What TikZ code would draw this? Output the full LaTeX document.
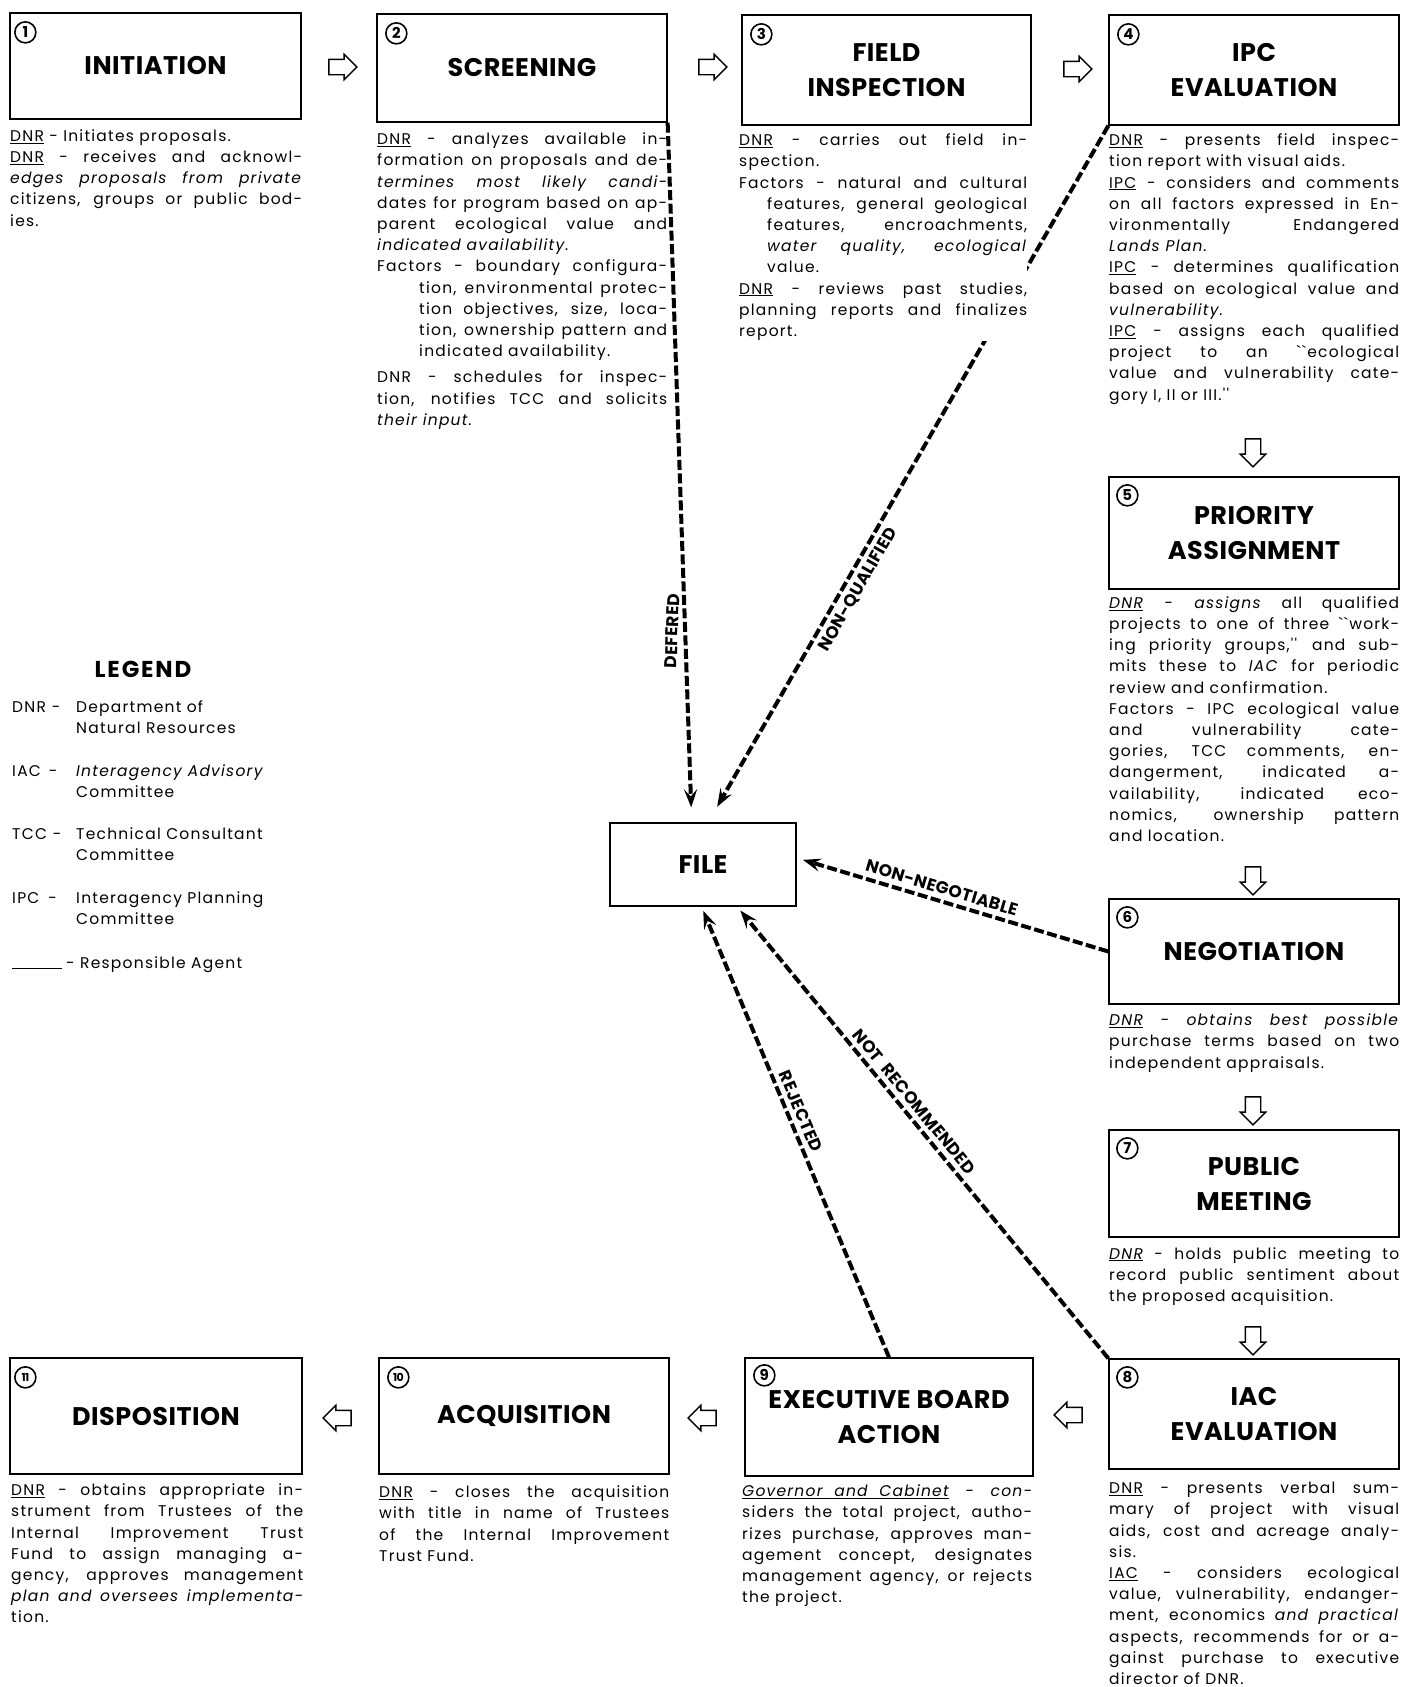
\documentclass[tikz,border=0pt]{standalone}
\usepackage{fontspec}
\setmainfont{Poppins}
\newfontfamily\bodyfam{Poppins}[LetterSpace=8]
\newfontfamily\headfam{Poppins}[LetterSpace=2]
\newfontfamily\legfam{Poppins}[LetterSpace=8]
\newfontfamily\numfam{Poppins}[LetterSpace=-6]
\usetikzlibrary{arrows.meta,shapes.arrows,backgrounds}
\newcommand\descfont{\bodyfam\fontsize{15.5}{21.2}\selectfont\hyphenpenalty=10000\exhyphenpenalty=10000\tolerance=10000}
\newcommand\headfont{\headfam\bfseries\fontsize{25.5}{35}\selectfont}
\newcommand\lblfont{\headfam\bfseries\fontsize{17}{19}\selectfont}
\newcommand\numfont{\numfam\bfseries\fontsize{15}{15}\selectfont}
\newcommand\numsmall{\numfam\bfseries\fontsize{11}{11}\selectfont}
\newcommand\udnr{\underline{DNR}}
\begin{document}
\begin{tikzpicture}[x=1pt,y=-1pt,
  stage/.style={draw, line width=1.3pt, align=center, font=\headfont, inner sep=0pt, minimum width=290pt},
  desc/.style={anchor=north west, text width=290pt, align=justify, inner sep=0pt, font=\descfont},
  num/.style={circle, draw, line width=1.6pt, minimum size=21pt, inner sep=0pt, font=\numfont},
  blk/.style={single arrow, draw, line width=1.4pt, minimum height=28pt, inner sep=7pt, single arrow head extend=5pt},
  flow/.style={line width=4pt, dash pattern=on 10pt off 3.5pt, -{Stealth[length=18pt,width=13pt,inset=7pt]}},
  lbl/.style={font=\lblfont, inner sep=5pt},
  legd/.style={anchor=base west, inner sep=0pt, font=\legfam\fontsize{15.5}{21}\selectfont, align=left}
]
\useasboundingbox (0,0) rectangle (1404,1687);

% ---------- stage boxes ----------
\node[stage, minimum width=291pt, minimum height=106pt] (B1) at (155.5,66) {INITIATION};
\node[stage, minimum height=108pt] (B2) at (522,68) {SCREENING};
\node[stage, minimum width=289pt, minimum height=110pt] (B3) at (886.5,70) {FIELD\\INSPECTION};
\node[stage, minimum height=110pt] (B4) at (1254,70) {IPC\\EVALUATION};
\node[stage, minimum height=112pt] (B5) at (1254,533) {PRIORITY\\ASSIGNMENT};
\node[stage, minimum height=105pt] (B6) at (1254,951.5) {NEGOTIATION};
\node[stage, minimum height=107pt] (B7) at (1254,1183.5) {PUBLIC\\MEETING};
\node[stage, minimum height=110pt] (B8) at (1254,1414) {IAC\\EVALUATION};
\node[stage, minimum width=288pt, minimum height=118pt] (B9) at (889,1417) {EXECUTIVE BOARD\\ACTION};
\node[stage, minimum height=116pt] (B10) at (524,1416) {ACQUISITION};
\node[stage, minimum width=292pt, minimum height=116pt] (B11) at (156,1416) {DISPOSITION};
\node[draw, line width=1.2pt, minimum width=186pt, minimum height=83pt, inner sep=0pt, font=\headfont] (FILE) at (703,864.5) {FILE};

% ---------- numbers ----------
\node[num] (n1) at ([shift={(16,20)}]B1.north west) {1};
\node[num] (n2) at ([shift={(20,20)}]B2.north west) {2};
\node[num] (n3) at ([shift={(20,20)}]B3.north west) {3};
\node[num] (n4) at ([shift={(20,20)}]B4.north west) {4};
\node[num] (n5) at ([shift={(19,19)}]B5.north west) {5};
\node[num] (n6) at ([shift={(19,19)}]B6.north west) {6};
\node[num] (n7) at ([shift={(19,19)}]B7.north west) {7};
\node[num] (n8) at ([shift={(19,19)}]B8.north west) {8};
\node[num] (n9) at ([shift={(20,18)}]B9.north west) {9};
\node[num, font=\numsmall] (n10) at ([shift={(20,20)}]B10.north west) {10};
\node[num, font=\numsmall] (n11) at ([shift={(16,20)}]B11.north west) {11};

% ---------- block arrows ----------
\node[blk] (a12) at (339,67) {};
\node[blk] (a23) at (709,67) {};
\node[blk] (a34) at (1074,69) {};
\node[blk, shape border rotate=270] (a45) at (1253,449) {};
\node[blk, shape border rotate=270] (a56) at (1253,877) {};
\node[blk, shape border rotate=270] (a67) at (1253,1107) {};
\node[blk, shape border rotate=270] (a78) at (1253,1337) {};
\node[blk, shape border rotate=180] (a89) at (1072,1415) {};
\node[blk, shape border rotate=180] (a910) at (706,1418) {};
\node[blk, shape border rotate=180] (a1011) at (341,1418) {};

% ---------- descriptions ----------
\node[desc, text width=292pt] (D1) at (10,126.3) {\strut\udnr{} - Initiates proposals.\par
\udnr{} - receives and acknowl-\linebreak
\textit{edges proposals from private}\linebreak
citizens, groups or public bod-\linebreak
ies.};

\node[desc] (D2) at (377,129.6) {\strut\udnr{} - analyzes available in-\linebreak
formation on proposals and de-\linebreak
\textit{termines most likely candi-}\linebreak
dates for program based on ap-\linebreak
parent ecological value and\linebreak
\textit{indicated availability.}\par
\hangindent=42pt\hangafter=1
Factors - boundary configura-\linebreak
tion, environmental protec-\linebreak
tion objectives, size, loca-\linebreak
tion, ownership pattern and\linebreak
indicated availability.\par
\vspace{5pt}
DNR - schedules for inspec-\linebreak
tion, notifies TCC and solicits\linebreak
\textit{their input.}};

\node[desc, text width=288pt, fill=white] (D3) at (739,130.7) {\strut\udnr{} - carries out field in-\linebreak
spection.\par
\hangindent=28pt\hangafter=1
Factors - natural and cultural\linebreak
features, general geological\linebreak
features, encroachments,\linebreak
\textit{water quality, ecological}\linebreak
value.\par
\udnr{} - reviews past studies,\linebreak
planning reports and finalizes\linebreak
report.};

\node[desc] (D4) at (1109,130.7) {\strut\udnr{} - presents field inspec-\linebreak
tion report with visual aids.\par
\underline{IPC} - considers and comments\linebreak
on all factors expressed in En-\linebreak
vironmentally Endangered\linebreak
\textit{Lands Plan.}\par
\underline{IPC} - determines qualification\linebreak
based on ecological value and\linebreak
\textit{vulnerability.}\par
\underline{IPC} - assigns each qualified\linebreak
project to an ``ecological\linebreak
value and vulnerability cate-\linebreak
gory I, II or III.''};

\node[desc] (D5) at (1109,593.3) {\strut\textit{\udnr{} - assigns} all qualified\linebreak
projects to one of three ``work-\linebreak
ing priority groups,'' and sub-\linebreak
mits these to \textit{IAC} for periodic\linebreak
review and confirmation.\par
\hangindent=29pt\hangafter=1
Factors - IPC ecological value\linebreak
and vulnerability cate-\linebreak
gories, TCC comments, en-\linebreak
dangerment, indicated a-\linebreak
vailability, indicated eco-\linebreak
nomics, ownership pattern\linebreak
and location.};

\node[desc] (D6) at (1109,1010.7) {\strut\textit{\udnr{} - obtains best possible}\linebreak
purchase terms based on two\linebreak
independent appraisals.};

\node[desc] (D7) at (1109,1244.2) {\strut\textit{\udnr{}} - holds public meeting to\linebreak
record public sentiment about\linebreak
the proposed acquisition.};

\node[desc] (D8) at (1109,1478.7) {\strut\udnr{} - presents verbal sum-\linebreak
mary of project with visual\linebreak
aids, cost and acreage analy-\linebreak
sis.\par
\underline{IAC} - considers ecological\linebreak
value, vulnerability, endanger-\linebreak
ment, economics \textit{and practical}\linebreak
aspects, recommends for or a-\linebreak
gainst purchase to executive\linebreak
director of DNR.};

\node[desc] (D9) at (742,1481.7) {\strut\textit{\underline{Governor\ \ and\ \ Cabinet} - con-}\linebreak
siders the total project, autho-\linebreak
rizes purchase, approves man-\linebreak
agement concept, designates\linebreak
management agency, or rejects\linebreak
the project.};

\node[desc] (D10) at (379,1482.7) {\strut\udnr{} - closes the acquisition\linebreak
with title in name of Trustees\linebreak
of the Internal Improvement\linebreak
Trust Fund.};

\node[desc, text width=292pt] (D11) at (11,1480.7) {\strut\udnr{} - obtains appropriate in-\linebreak
strument from Trustees of the\linebreak
Internal Improvement Trust\linebreak
Fund to assign managing a-\linebreak
gency, approves management\linebreak
\textit{plan and oversees implementa-}\linebreak
tion.};

% ---------- legend ----------
\node[font=\legfam\bfseries\fontsize{23}{26}\selectfont, inner sep=0pt] (LEG) at (143,669) {LEGEND};
\node[legd] (L1) at (12,712) {\makebox[64pt][l]{DNR\hspace{6pt}-}\begin{tabular}[t]{@{}l@{}}Department of\\Natural Resources\end{tabular}};
\node[legd] (L2) at (12,776) {\makebox[64pt][l]{IAC\hspace{8pt}-}\begin{tabular}[t]{@{}l@{}}\textit{Interagency Advisory}\\Committee\end{tabular}};
\node[legd] (L3) at (12,839) {\makebox[64pt][l]{TCC\hspace{6pt}-}\begin{tabular}[t]{@{}l@{}}Technical Consultant\\Committee\end{tabular}};
\node[legd] (L4) at (12,903) {\makebox[64pt][l]{IPC\hspace{9pt}-}\begin{tabular}[t]{@{}l@{}}Interagency Planning\\Committee\end{tabular}};
\node[legd] (L5) at (12,968) {\rule[-1pt]{50pt}{1pt}\hspace{4pt}- Responsible Agent};

% ---------- flows to FILE ----------
\begin{scope}[on background layer]
\fill[white] (0,0) rectangle (1404,1687);
\draw[flow, shorten >=15pt] (B2.south east) -- node[lbl, pos=0.727, anchor=south, rotate=88] {DEFERED} (FILE.105);
\draw[flow, shorten >=18pt] (B4.south west) -- node[lbl, pos=0.656, anchor=north, sloped] {NON-QUALIFIED} (FILE.83);
\draw[flow, shorten >=6.5pt] (B6.west) -- node[lbl, pos=0.546, anchor=south, sloped] {NON-NEGOTIABLE} (FILE.4);
\draw[flow, shorten >=4.5pt] (B9.north) -- node[lbl, pos=0.535, anchor=south, sloped] {REJECTED} (FILE.268);
\draw[flow, shorten >=5pt] (B8.north west) -- node[lbl, pos=0.55, anchor=south, sloped] {NOT\ \ RECOMMENDED} (FILE.309);
\end{scope}
\end{tikzpicture}
\end{document}
